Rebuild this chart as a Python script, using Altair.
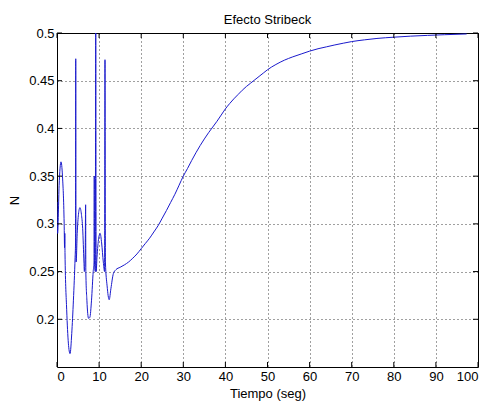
import altair as alt
import pandas as pd

# Time (s) and friction force N
t_vals = [0.0, 0.15, 0.5, 0.95, 1.3, 1.7, 1.8, 1.85, 1.9, 2.3, 2.7, 3.1, 3.5, 3.9, 4.3, 4.4,
          4.45, 4.5, 4.55, 4.8, 5.1, 5.45, 5.8, 6.1, 6.4, 6.5, 6.7, 6.8, 6.85, 7.1, 7.5, 7.8,
          8.2, 8.6, 8.8, 8.85, 8.9, 9.1, 9.2, 9.3, 9.5, 9.9, 10.25, 10.6, 11.0, 11.3, 11.4,
          11.5, 11.9, 12.4, 12.8, 13.4, 14.0, 15.0, 16.0, 17.0, 18.0, 19.0, 20.0, 21.0,
          22.0, 23.0, 24.0, 25.0, 26.0, 27.0, 28.0, 29.0, 30.0, 31.0, 32.0, 33.0, 34.0,
          35.0, 36.0, 37.0, 38.0, 39.0, 40.0, 41.0, 42.0, 43.0, 44.0, 45.0, 46.0, 47.0,
          48.0, 49.0, 50.0, 52.0, 54.0, 56.0, 58.0, 60.0, 62.0, 64.0, 66.0, 68.0, 70.0,
          73.0, 76.0, 80.0, 84.0, 88.0, 92.0, 97.3]
n_vals = [0.323, 0.29, 0.34, 0.365, 0.35, 0.30, 0.275, 0.29, 0.27, 0.21, 0.175, 0.164, 0.185,
          0.22, 0.265, 0.28, 0.473, 0.28, 0.26, 0.29, 0.31, 0.317, 0.31, 0.295, 0.26, 0.25,
          0.27, 0.32, 0.25, 0.22, 0.201, 0.202, 0.22, 0.25, 0.26, 0.35, 0.26, 0.25, 0.52,
          0.25, 0.265, 0.285, 0.29, 0.28, 0.26, 0.25, 0.472, 0.26, 0.235, 0.2205, 0.232,
          0.248, 0.252, 0.2545, 0.257, 0.26, 0.264, 0.2685, 0.274, 0.2795, 0.285, 0.2915,
          0.298, 0.306, 0.314, 0.3225, 0.331, 0.3405, 0.35, 0.358, 0.3665, 0.3745, 0.382,
          0.389, 0.3955, 0.4015, 0.4075, 0.414, 0.4205, 0.426, 0.431, 0.4355, 0.44, 0.444,
          0.4475, 0.451, 0.4545, 0.458, 0.4615, 0.467, 0.4715, 0.475, 0.478, 0.481, 0.4835,
          0.4855, 0.4875, 0.4893, 0.491, 0.4928, 0.4943, 0.4956, 0.4967, 0.4975, 0.4982,
          0.499]

x_ticks = [0, 10, 20, 30, 40, 50, 60, 70, 80, 90, 100]
y_ticks = [0.2, 0.25, 0.3, 0.35, 0.4, 0.45, 0.5]

W, H = 421, 334
FONT = "Liberation Sans"

df = pd.DataFrame({"t": t_vals, "n": n_vals})
xt = pd.DataFrame({"t": x_ticks})
yt = pd.DataFrame({"n": y_ticks})

xscale = alt.Scale(domain=[0, 100], nice=False, zero=False)
yscale = alt.Scale(domain=[0.15, 0.5], nice=False, zero=False)

line = alt.Chart(df).mark_line(color="#1a1acc", strokeWidth=1, clip=True,
                               interpolate="monotone").encode(
    x=alt.X("t:Q", scale=xscale,
            axis=alt.Axis(values=x_ticks, format="d", title="Tiempo (seg)",
                          titlePadding=4)),
    y=alt.Y("n:Q", scale=yscale,
            axis=alt.Axis(values=y_ticks, format="~g", title="N",
                          titleX=-43, titleY=H / 2, titleAngle=-90,
                          titleAlign="center", titleBaseline="middle")),
)

xb = alt.Chart(xt).mark_rule(color="#000", strokeWidth=1).encode(
    x=alt.X("t:Q", scale=xscale), y=alt.value(H), y2=alt.value(H - 5))
xtop = alt.Chart(xt).mark_rule(color="#000", strokeWidth=1).encode(
    x=alt.X("t:Q", scale=xscale), y=alt.value(0), y2=alt.value(5))
yl = alt.Chart(yt).mark_rule(color="#000", strokeWidth=1).encode(
    y=alt.Y("n:Q", scale=yscale), x=alt.value(0), x2=alt.value(5))
yr = alt.Chart(yt).mark_rule(color="#000", strokeWidth=1).encode(
    y=alt.Y("n:Q", scale=yscale), x=alt.value(W), x2=alt.value(W - 5))

chart = alt.layer(line, xb, xtop, yl, yr).properties(
    width=W, height=H,
    background="white",
    title=alt.TitleParams("Efecto Stribeck", font=FONT, fontSize=13,
                          fontWeight="normal", color="#000", offset=0),
    autosize=alt.AutoSizeParams(type="none"),
    padding={"left": 57, "top": 33, "right": 11, "bottom": 34},
).configure_view(
    stroke="#000", strokeWidth=1
).configure_axis(
    labelFont=FONT, labelFontSize=13, labelColor="#000",
    titleFont=FONT, titleFontSize=13, titleFontWeight="normal", titleColor="#000",
    ticks=False, domain=False, labelPadding=3,
    grid=True, gridColor="#000", gridDash=[1, 3], gridOpacity=0.75, gridWidth=1,
)

chart.save("out.html", embed_options={"renderer": "svg", "actions": False})
